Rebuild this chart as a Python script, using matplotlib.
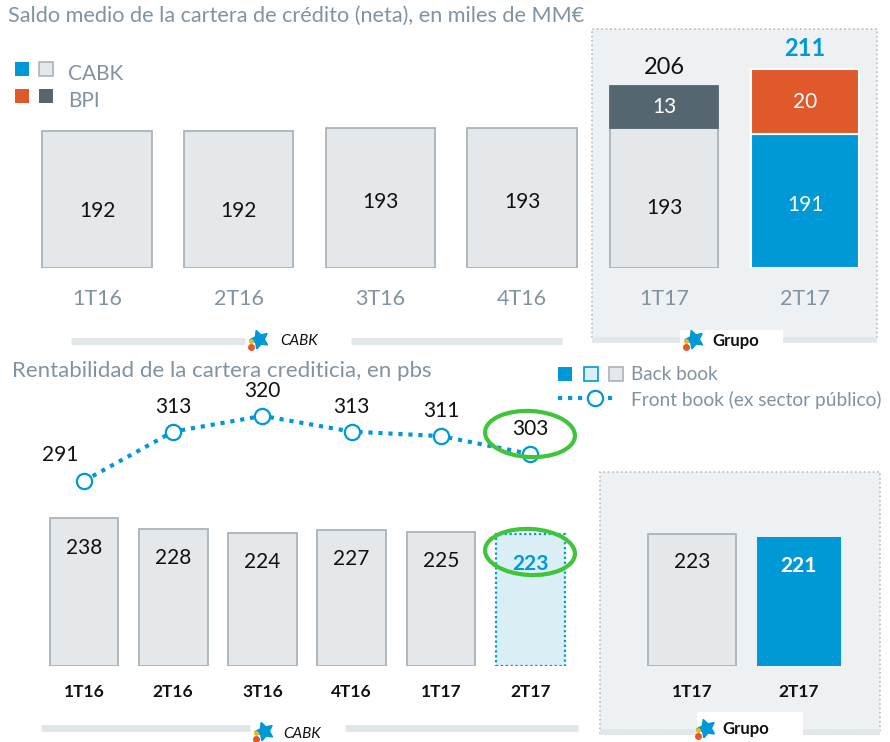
import matplotlib
matplotlib.use("Agg")
import matplotlib.pyplot as plt
from matplotlib.patches import Rectangle, Ellipse
from matplotlib.lines import Line2D

plt.rcParams['font.family'] = ['Lato', 'DejaVu Sans']

W, H = 890, 742

# ---------------- data ----------------
top_cabk_cats = ['1T16', '2T16', '3T16', '4T16']
top_cabk_vals = [192, 192, 193, 193]
top_grupo_cats = ['1T17', '2T17']
top_grupo_cabk = [193, 191]
top_grupo_bpi = [13, 20]
top_grupo_total = [206, 211]

bot_cats = ['1T16', '2T16', '3T16', '4T16', '1T17', '2T17']
back_book = [238, 228, 224, 227, 225, 223]
front_book = [291, 313, 320, 313, 311, 303]
bot_grupo_cats = ['1T17', '2T17']
bot_grupo_vals = [223, 221]

# ---------------- style ----------------
BLUE = '#0099d8'
ORANGE = '#e0592a'
SLATE = '#566671'
LGREY = '#e4e8eb'
EDGE = '#a9b3ba'
LBLUE = '#daeef5'
TXTGREY = '#8193a0'
GREEN = '#3fc43a'
BOXBG = '#eef1f3'
TOP_BASE = 150
BOT_BASE = 100

fig = plt.figure(figsize=(W / 100, H / 100), dpi=100)


def fx(x):
    return x / W


def fy(y):
    return 1 - y / H


def ax_px(x0, y0, x1, y1):
    ax = fig.add_axes([x0 / W, 1 - y1 / H, (x1 - x0) / W, (y1 - y0) / H])
    ax.set_facecolor('none')
    for s in ax.spines.values():
        s.set_visible(False)
    ax.set_yticks([])
    return ax


def rect_px(x0, y0, x1, y1, **kw):
    r = Rectangle((fx(x0), fy(y1)), (x1 - x0) / W, (y1 - y0) / H,
                  transform=fig.transFigure, **kw)
    fig.add_artist(r)
    return r


def hline_px(x0, x1, y, color='#e1e6e9', lw=5, z=1):
    fig.add_artist(Line2D([fx(x0), fx(x1)], [fy(y), fy(y)], color=color,
                          lw=lw, transform=fig.transFigure, zorder=z,
                          solid_capstyle='butt'))


def logo(x, y):
    fig.add_artist(Line2D([fx(x)], [fy(y)], marker=(5, 1, 20), color=BLUE,
                          markersize=14, transform=fig.transFigure, zorder=5))
    fig.add_artist(Line2D([fx(x - 8)], [fy(y + 8)], marker='o', color=ORANGE,
                          markersize=4, transform=fig.transFigure, zorder=6))
    fig.add_artist(Line2D([fx(x - 8)], [fy(y + 2)], marker='o', color='#f5b800',
                          markersize=2.5, transform=fig.transFigure, zorder=6))


# ---------------- boxes (Grupo) ----------------
rect_px(592, 29, 877, 340, facecolor=BOXBG, edgecolor='#b3bcc3', ls=':', lw=1.2, zorder=-2)
rect_px(600, 472, 880, 734, facecolor=BOXBG, edgecolor='#b3bcc3', ls=':', lw=1.2, zorder=-2)

# ---------------- titles ----------------
fig.text(fx(8), fy(16), 'Saldo medio de la cartera de crédito (neta), en miles de MM€',
         fontsize=15.6, color=TXTGREY, va='center', ha='left')
fig.text(fx(12), fy(371), 'Rentabilidad de la cartera crediticia, en pbs',
         fontsize=16, color=TXTGREY, va='center', ha='left')

# top legend
rect_px(15, 62, 29, 76, facecolor=BLUE, edgecolor='none')
rect_px(39, 62, 53, 76, facecolor=LGREY, edgecolor=EDGE, lw=1.2)
rect_px(15, 89, 29, 103, facecolor=ORANGE, edgecolor='none')
rect_px(39, 89, 53, 103, facecolor=SLATE, edgecolor='none')
fig.text(fx(68), fy(74), 'CABK', fontsize=15, color=TXTGREY, va='center')
fig.text(fx(68), fy(101), 'BPI', fontsize=15, color=TXTGREY, va='center')

# bottom legend
rect_px(558, 367, 572, 381, facecolor=BLUE, edgecolor='none')
rect_px(584, 367, 598, 381, facecolor=LBLUE, edgecolor=BLUE, lw=1.2)
rect_px(609, 367, 623, 381, facecolor=LGREY, edgecolor=EDGE, lw=1.2)
fig.text(fx(631), fy(375), 'Back book', fontsize=13.6, color=TXTGREY, va='center')
fig.add_artist(Line2D([fx(558), fx(612)], [fy(398), fy(398)], color=BLUE, lw=3,
                      ls=(0, (1, 1.4)), transform=fig.transFigure))
fig.add_artist(Line2D([fx(595)], [fy(398)], marker='o', markersize=11, mfc='white',
                      mec=BLUE, mew=1.6, transform=fig.transFigure, zorder=4))
fig.text(fx(631), fy(400), 'Front book (ex sector público)', fontsize=13.8,
         color=TXTGREY, va='center')

# ---------------- top-left: CABK ----------------
ax = ax_px(0, 40, 590, 268)
ax.set_xlim(-0.685, 3.48)
ax.set_ylim(TOP_BASE, 220)
x = list(range(len(top_cabk_cats)))
ax.bar(x, [v - TOP_BASE for v in top_cabk_vals], bottom=TOP_BASE, width=0.77,
       color=LGREY, edgecolor=EDGE, lw=1.3)
for i, v in enumerate(top_cabk_vals):
    ax.text(i, TOP_BASE + (v - TOP_BASE) * (0.42 if v < 193 else 0.47), str(v),
            ha='center', va='center', fontsize=15, color='#111111')
ax.set_xticks(x, top_cabk_cats)
ax.tick_params(axis='x', length=0, pad=15, labelsize=15.5, labelcolor=TXTGREY)

# ---------------- top-right: Grupo ----------------
ax = ax_px(592, 40, 877, 268)
ax.set_xlim(-0.51, 1.51)
ax.set_ylim(TOP_BASE, 220)
x = list(range(len(top_grupo_cats)))
ax.bar(0, top_grupo_cabk[0] - TOP_BASE, bottom=TOP_BASE, width=0.77, color=LGREY,
       edgecolor=EDGE, lw=1.3)
ax.bar(0, top_grupo_bpi[0], bottom=top_grupo_cabk[0], width=0.77, color=SLATE,
       edgecolor=SLATE, lw=1.3)
ax.bar(1, top_grupo_cabk[1] - TOP_BASE, bottom=TOP_BASE, width=0.77, color=BLUE,
       edgecolor='white', lw=1.5)
ax.bar(1, top_grupo_bpi[1], bottom=top_grupo_cabk[1], width=0.77, color=ORANGE,
       edgecolor='white', lw=1.5)
ax.text(0, TOP_BASE + (top_grupo_cabk[0] - TOP_BASE) * 0.43, str(top_grupo_cabk[0]),
        ha='center', va='center', fontsize=15, color='#111111')
ax.text(1, TOP_BASE + (top_grupo_cabk[1] - TOP_BASE) * 0.47, str(top_grupo_cabk[1]),
        ha='center', va='center', fontsize=15, color='white')
for i in x:
    ax.text(i, top_grupo_cabk[i] + top_grupo_bpi[i] / 2, str(top_grupo_bpi[i]),
            ha='center', va='center', fontsize=15, color='white')
ax.annotate(str(top_grupo_total[0]), (0, top_grupo_total[0]), xytext=(0, 13),
            textcoords='offset points', ha='center', va='center', fontsize=17,
            color='#111111', annotation_clip=False)
ax.annotate(str(top_grupo_total[1]), (1, top_grupo_total[1]), xytext=(0, 15),
            textcoords='offset points', ha='center', va='center', fontsize=17,
            color=BLUE, fontweight='bold', annotation_clip=False)
ax.set_xticks(x, top_grupo_cats)
ax.tick_params(axis='x', length=0, pad=15, labelsize=15.5, labelcolor=TXTGREY)

# top footers
hline_px(71, 245, 341)
hline_px(351, 562, 341)
logo(259, 339)
fig.text(fx(280), fy(341), 'CABK', fontsize=11, style='italic', color='#111111', va='center')
hline_px(592, 877, 340, lw=4)
rect_px(680, 330, 783, 352, facecolor='white', edgecolor='none', zorder=2)
logo(694, 339)
fig.text(fx(712), fy(341), 'Grupo', fontsize=12, fontweight='bold', color='#111111',
         va='center', zorder=6)

# ---------------- bottom-left: CABK ----------------
ax = ax_px(0, 400, 590, 666)
ax.set_xlim(-0.94, 5.67)
ax.set_ylim(BOT_BASE, 348.6)
x = list(range(len(bot_cats)))
ax.bar(x[:-1], [v - BOT_BASE for v in back_book[:-1]], bottom=BOT_BASE, width=0.77,
       color=LGREY, edgecolor=EDGE, lw=1.3)
ax.bar(x[-1], back_book[-1] - BOT_BASE, bottom=BOT_BASE, width=0.77, color=LBLUE,
       edgecolor=BLUE, lw=1.6, ls=(0, (1, 1.2)))
for i, v in enumerate(back_book):
    last = i == len(back_book) - 1
    ax.annotate(str(v), (i, v), xytext=(0, -21), textcoords='offset points',
                ha='center', va='center', fontsize=15,
                color=BLUE if last else '#111111',
                fontweight='bold' if last else 'normal')
ax.set_xticks(x, bot_cats)
ax.tick_params(axis='x', length=0, pad=13, labelsize=12.5, labelcolor='#111111')
for t in ax.get_xticklabels():
    t.set_fontweight('bold')

ax2 = ax.twinx()
ax2.set_facecolor('none')
for s in ax2.spines.values():
    s.set_visible(False)
ax2.set_yticks([])
ax2.set_ylim(208.45, 327.1)
ax2.plot(x, front_book, color=BLUE, lw=3, ls=(0, (1, 1.4)), marker='o',
         markersize=11, mfc='white', mec=BLUE, mew=1.6, zorder=3)
for i, v in enumerate(front_book):
    off = (-17, 19) if i == 0 else (0, 18)
    ax2.annotate(str(v), (i, v), xytext=off, textcoords='offset points',
                 ha='center', va='center', fontsize=15, color='#111111')

# green hand-drawn ellipses
fig.add_artist(Ellipse((fx(530), fy(434)), 90 / W, 46 / H, angle=-4,
                       transform=fig.transFigure, fill=False, ec=GREEN, lw=3, zorder=7))
fig.add_artist(Ellipse((fx(530), fy(552)), 90 / W, 46 / H, angle=-4,
                       transform=fig.transFigure, fill=False, ec=GREEN, lw=3, zorder=7))

# ---------------- bottom-right: Grupo ----------------
ax = ax_px(600, 400, 880, 666)
ax.set_xlim(-0.86, 1.76)
ax.set_ylim(BOT_BASE, 348.6)
x = list(range(len(bot_grupo_cats)))
ax.bar(0, bot_grupo_vals[0] - BOT_BASE, bottom=BOT_BASE, width=0.82, color=LGREY,
       edgecolor=EDGE, lw=1.3)
ax.bar(1, bot_grupo_vals[1] - BOT_BASE, bottom=BOT_BASE, width=0.79, color=BLUE,
       edgecolor='none')
ax.annotate(str(bot_grupo_vals[0]), (0, bot_grupo_vals[0]), xytext=(0, -20),
            textcoords='offset points', ha='center', va='center', fontsize=15,
            color='#111111')
ax.annotate(str(bot_grupo_vals[1]), (1, bot_grupo_vals[1]), xytext=(0, -21),
            textcoords='offset points', ha='center', va='center', fontsize=15,
            color='white', fontweight='bold')
ax.set_xticks(x, bot_grupo_cats)
ax.tick_params(axis='x', length=0, pad=13, labelsize=12.5, labelcolor='#111111')
for t in ax.get_xticklabels():
    t.set_fontweight('bold')

# bottom footers
hline_px(41, 250, 728)
hline_px(345, 578, 728)
logo(264, 731)
fig.text(fx(283), fy(734), 'CABK', fontsize=11, style='italic', color='#111111', va='center')
hline_px(600, 880, 732, lw=4)
rect_px(697, 712, 803, 742, facecolor='white', edgecolor='none', zorder=2)
logo(706, 728)
fig.text(fx(722), fy(729), 'Grupo', fontsize=12, fontweight='bold', color='#111111',
         va='center', zorder=6)

fig.savefig('out.png', dpi=100)
